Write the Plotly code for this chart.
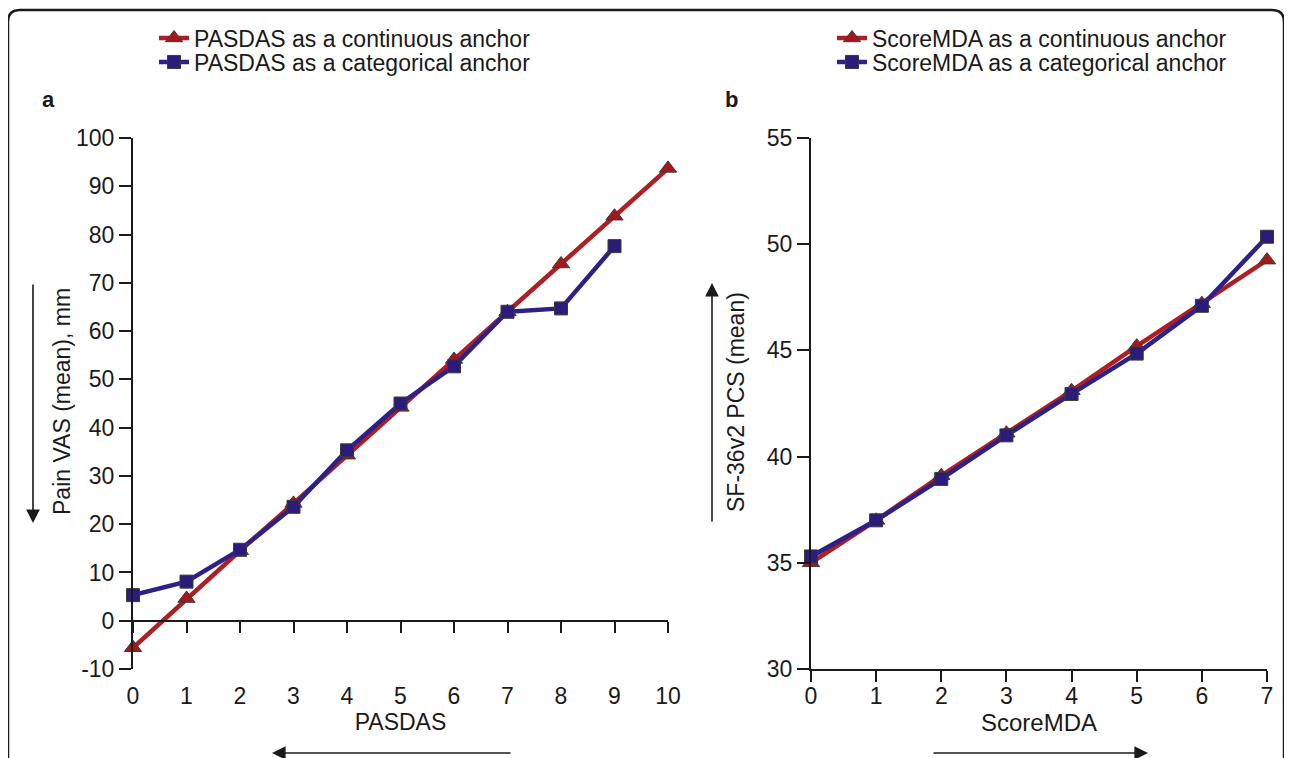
import plotly.graph_objects as go

# ---------------- data ----------------
pasdas_x = [0, 1, 2, 3, 4, 5, 6, 7, 8, 9, 10]
pasdas_cont = [-5.6, 4.6, 14.5, 24.3, 34.3, 44.2, 54.1, 64.0, 73.9, 83.8, 93.7]
pasdas_cat_x = [0, 1, 2, 3, 4, 5, 6, 7, 8, 9]
pasdas_cat = [5.3, 8.1, 14.7, 23.6, 35.3, 45.0, 52.7, 64.0, 64.7, 77.6]

mda_x = [0, 1, 2, 3, 4, 5, 6, 7]
mda_cont = [35.0, 37.0, 39.1, 41.1, 43.1, 45.2, 47.2, 49.25]
mda_cat = [35.3, 37.0, 38.95, 41.0, 42.95, 44.85, 47.1, 50.35]

a_yticks = [-10, 0, 10, 20, 30, 40, 50, 60, 70, 80, 90, 100]
a_xticks = [0, 1, 2, 3, 4, 5, 6, 7, 8, 9, 10]
b_yticks = [30, 35, 40, 45, 50, 55]
b_xticks = [0, 1, 2, 3, 4, 5, 6, 7]

names = ["PASDAS as a continuous anchor", "PASDAS as a categorical anchor",
         "ScoreMDA as a continuous anchor", "ScoreMDA as a categorical anchor"]

# ---------------- style / geometry (page pixels) ----------------
OFF = 8                                   # page body margin
W, H = 1292 - OFF, 758 - OFF
L, R, T, B = 133, 1267, 138, 669          # plot area edges in page pixels
FONT = "Liberation Sans, Arial, Helvetica, sans-serif"
INK = "#1a1a1a"
RED = "#AD1F22"
BLUE = "#2D2089"
RED_FILL = "#A3181C"
BLUE_FILL = "#2B1C7C"
EDGE = "#3A3A3A"

def px_x(p):
    return (p - L) / (R - L)

def px_y(p):
    return (B - p) / (B - T)

a_dom = [0, px_x(668)]
b_dom = [px_x(811), 1]
y_dom = [0, 1]

fig = go.Figure()

tri = dict(symbol="triangle-up", size=15, color=RED_FILL, line=dict(color=EDGE, width=1))
sq = dict(symbol="square", size=13, color=BLUE_FILL, line=dict(color=EDGE, width=1))

fig.add_trace(go.Scatter(x=pasdas_x, y=pasdas_cont, mode="lines+markers", name=names[0],
                         line=dict(color=RED, width=4.5), marker=tri, cliponaxis=False,
                         xaxis="x", yaxis="y", legend="legend"))
fig.add_trace(go.Scatter(x=pasdas_cat_x, y=pasdas_cat, mode="lines+markers", name=names[1],
                         line=dict(color=BLUE, width=4.5), marker=sq, cliponaxis=False,
                         xaxis="x", yaxis="y", legend="legend2"))
fig.add_trace(go.Scatter(x=mda_x, y=mda_cont, mode="lines+markers", name=names[2],
                         line=dict(color=RED, width=4.5), marker=tri, cliponaxis=False,
                         xaxis="x2", yaxis="y2", legend="legend3"))
fig.add_trace(go.Scatter(x=mda_x, y=mda_cat, mode="lines+markers", name=names[3],
                         line=dict(color=BLUE, width=4.5), marker=sq, cliponaxis=False,
                         xaxis="x2", yaxis="y2", legend="legend4"))
# placeholder traces so the tick-mark overlay axes are drawn
fig.add_trace(go.Scatter(x=[None], y=[None], xaxis="x3", yaxis="y", showlegend=False,
                         hoverinfo="skip"))
fig.add_trace(go.Scatter(x=[None], y=[None], xaxis="x4", yaxis="y2", showlegend=False,
                         hoverinfo="skip"))

tickfont = dict(family=FONT, size=23, color=INK)

a_range = [-10, 100]
zero_pos = (0 - a_range[0]) / (a_range[1] - a_range[0])

common = dict(showgrid=False, zeroline=False, automargin=False)
label_axis = dict(ticks="outside", ticklen=6, tickcolor="rgba(0,0,0,0)", showline=False,
                  tickfont=tickfont, **common)
mark_axis = dict(ticks="outside", ticklen=11, tickwidth=2, tickcolor=INK, showline=True,
                 linecolor=INK, linewidth=2, showticklabels=False, side="bottom", **common)
yax = dict(ticks="outside", ticklen=12, tickwidth=2, tickcolor=INK, showline=True,
           linecolor=INK, linewidth=2, tickfont=tickfont, **common)

fig.update_layout(
    width=W, height=H,
    margin=dict(l=L - OFF, r=W - (R - OFF), t=T - OFF, b=H - (B - OFF), pad=0, autoexpand=False),
    paper_bgcolor="white", plot_bgcolor="white",
    font=dict(family=FONT, color=INK),
    xaxis=dict(domain=a_dom, range=[0, 10], tickvals=a_xticks, anchor="y",
               title=dict(text="PASDAS", font=dict(family=FONT, size=23, color=INK), standoff=3),
               **label_axis),
    xaxis3=dict(domain=a_dom, range=[0, 10], tickvals=a_xticks, overlaying="x",
                anchor="free", position=zero_pos, **mark_axis),
    yaxis=dict(domain=y_dom, range=a_range, tickvals=a_yticks,
               ticktext=[str(v) for v in a_yticks], anchor="x", **yax),
    xaxis2=dict(domain=b_dom, range=[0, 7], tickvals=b_xticks, anchor="y2",
                title=dict(text="ScoreMDA", font=dict(family=FONT, size=24, color=INK), standoff=3),
                **label_axis),
    xaxis4=dict(domain=b_dom, range=[0, 7], tickvals=b_xticks, overlaying="x2",
                anchor="y2", **mark_axis),
    yaxis2=dict(domain=y_dom, range=[30, 55], tickvals=b_yticks, anchor="x2", **yax),
)

legfont = dict(family=FONT, size=23, color=INK)
def leg(xp, yp):
    return dict(x=px_x(xp), y=px_y(yp), xanchor="left", yanchor="middle", font=legfont,
                bgcolor="rgba(0,0,0,0)", borderwidth=0, itemwidth=30)

fig.update_layout(
    legend=leg(154, 38), legend2=leg(154, 62),
    legend3=leg(832, 38), legend4=leg(832, 62),
)

ann = []
base = dict(xref="paper", yref="paper", showarrow=False, xanchor="center", yanchor="middle")
# panel labels
ann.append(dict(base, x=px_x(48), y=px_y(100), text="<b>a</b>",
                font=dict(family=FONT, size=22, color=INK)))
ann.append(dict(base, x=px_x(731), y=px_y(100), text="<b>b</b>",
                font=dict(family=FONT, size=22, color=INK)))
# y titles
ytf = dict(family=FONT, size=23, color=INK)
ann.append(dict(base, x=px_x(62), y=px_y(402), text="Pain VAS (mean), mm", textangle=-90, font=ytf))
ann.append(dict(base, x=px_x(736), y=px_y(402), text="SF-36v2 PCS (mean)", textangle=-90, font=ytf))
# direction arrows
arrow = dict(xref="paper", yref="paper", text="", showarrow=True, arrowhead=2, arrowsize=1.7,
             arrowwidth=1.6, arrowcolor=INK, axref="pixel", ayref="pixel")
ann.append(dict(arrow, x=px_x(33), y=px_y(523), ax=0, ay=-240))
ann.append(dict(arrow, x=px_x(712), y=px_y(283), ax=0, ay=240))
ann.append(dict(arrow, x=px_x(272), y=px_y(753), ax=240, ay=0))
ann.append(dict(arrow, x=px_x(1148), y=px_y(753), ax=-216, ay=0))
fig.update_layout(annotations=ann)

# rounded frame
def P(x, y):
    return f"{px_x(x)},{px_y(y)}"
path = (f"M {P(8, 770)} L {P(8, 22)} Q {P(8, 10)} {P(20, 10)} L {P(1272, 10)} "
        f"Q {P(1284, 10)} {P(1284, 22)} L {P(1284, 770)}")
fig.add_shape(type="path", xref="paper", yref="paper", path=path,
              line=dict(color=INK, width=2.5))

fig.write_html("out.html")
